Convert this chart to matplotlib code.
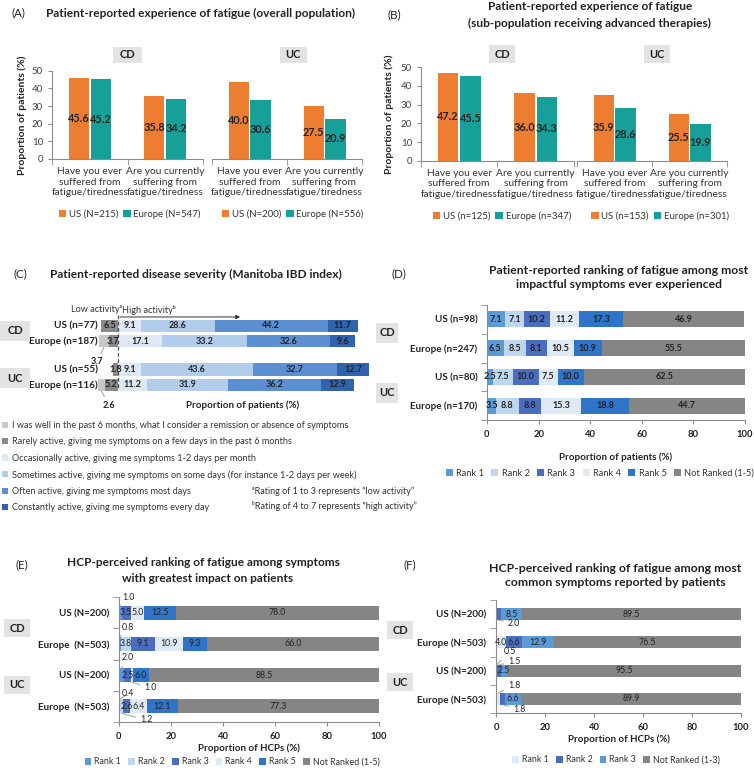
import matplotlib
matplotlib.use('Agg')
import matplotlib.pyplot as plt
from matplotlib.patches import Patch, Rectangle
import numpy as np

plt.rcParams['font.family'] = ['Lato', 'DejaVu Sans']

# ---------------- data ----------------
questions = ['Have you ever\nsuffered from\nfatigue/tiredness',
             'Are you currently\nsuffering from\nfatigue/tiredness']
A_CD_US = [45.6, 35.8]
A_CD_EU = [45.2, 34.2]
A_UC_US = [40.0, 27.5]
A_UC_EU = [30.6, 20.9]
A_leg_CD = ['US (N=215)', 'Europe (N=547)']
A_leg_UC = ['US (N=200)', 'Europe (N=556)']

B_CD_US = [47.2, 36.0]
B_CD_EU = [45.5, 34.3]
B_UC_US = [35.9, 25.5]
B_UC_EU = [28.6, 19.9]
B_leg_CD = ['US (n=125)', 'Europe (n=347)']
B_leg_UC = ['US (n=153)', 'Europe (n=301)']

C_rows = ['US (n=77)', 'Europe (n=187)', 'US (n=55)', 'Europe (n=116)']
C_cats = ['I was well in the past 6 months, what I consider a remission or absence of symptoms',
          'Rarely active, giving me symptoms on a few days in the past 6 months',
          'Occasionally active, giving me symptoms 1-2 days per month',
          'Sometimes active, giving me symptoms on some days (for instance 1-2 days per week)',
          'Often active, giving me symptoms most days',
          'Constantly active, giving me symptoms every day']
C_well = [0, 3.7, 0, 2.6]
C_rarely = [6.5, 3.7, 1.8, 5.2]
C_occas = [9.1, 17.1, 9.1, 11.2]
C_some = [28.6, 33.2, 43.6, 31.9]
C_often = [44.2, 32.6, 32.7, 36.2]
C_const = [11.7, 9.6, 12.7, 12.9]

D_rows = ['US (n=98)', 'Europe (n=247)', 'US (n=80)', 'Europe (n=170)']
D_rank1 = [7.1, 6.5, 2.5, 3.5]
D_rank2 = [7.1, 8.5, 7.5, 8.8]
D_rank3 = [10.2, 8.1, 10.0, 8.8]
D_rank4 = [11.2, 10.5, 7.5, 15.3]
D_rank5 = [17.3, 10.9, 10.0, 18.8]
D_notr = [46.9, 55.5, 62.5, 44.7]
rank5_labels = ['Rank 1', 'Rank 2', 'Rank 3', 'Rank 4', 'Rank 5', 'Not Ranked (1-5)']

E_rows = ['US (N=200)', 'Europe  (N=503)', 'US (N=200)', 'Europe  (N=503)']
E_rank1 = [1.0, 0.8, 2.0, 0.4]
E_rank2 = [0.0, 3.8, 0.0, 1.2]
E_rank3 = [3.5, 9.1, 2.5, 2.6]
E_rank4 = [5.0, 10.9, 1.0, 6.4]
E_rank5 = [12.5, 9.3, 6.0, 12.1]
E_notr = [78.0, 66.0, 88.5, 77.3]

F_rows = ['US (N=200)', 'Europe (N=503)', 'US (N=200)', 'Europe (N=503)']
F_rank1 = [0.0, 4.0, 0.5, 1.8]
F_rank2 = [2.0, 6.6, 1.5, 1.8]
F_rank3 = [8.5, 12.9, 2.5, 6.6]
F_notr = [89.5, 76.5, 95.5, 89.9]
rank3_labels = ['Rank 1', 'Rank 2', 'Rank 3', 'Not Ranked (1-3)']

# ---------------- style ----------------
ORANGE = '#ED7D31'
TEAL = '#17A09A'
BOXC = '#E3E3E3'
SPINE = '#8C8C8C'
TXT = '#222222'
C_cols = ['#C8C8C8', '#8A8A8A', '#DFE9F5', '#B2CCEB', '#5C8FD2', '#2F63AE']
R1, R2, R3, R4, R5, RN = '#5B9BD5', '#BDD7EE', '#4A6DBF', '#DEEBF7', '#2F74C8', '#858585'
TITLE_FS = 8.6

W, H = 754, 770
fig = plt.figure(figsize=(W / 100, H / 100), dpi=100)


def axpx(l, t, r, b):
    return fig.add_axes([l / W, 1 - b / H, (r - l) / W, (b - t) / H])


def ftext(x, y, s, **kw):
    kw.setdefault('color', TXT)
    return fig.text(x / W, 1 - y / H, s, **kw)


def fbox(cx, cy, w, h, s, fs=8):
    fig.patches.append(Rectangle(((cx - w / 2) / W, 1 - (cy + h / 2) / H), w / W, h / H,
                                 transform=fig.transFigure, fc=BOXC, ec='none', zorder=0))
    ftext(cx, cy, s, ha='center', va='center', fontsize=fs, fontweight='bold')


def hlegend(cx, cy, labels, colors, fs=6.6, colsp=0.9, tpad=0.35):
    handles = [Patch(facecolor=c, edgecolor='none') for c in colors]
    fig.legend(handles, labels, loc='center', bbox_to_anchor=(cx / W, 1 - cy / H),
               ncol=len(labels), frameon=False, fontsize=fs, handlelength=0.75,
               handleheight=0.75, handletextpad=tpad, columnspacing=colsp,
               borderaxespad=0, borderpad=0, labelcolor='#333333')


def grouped(ax, us, eu, ymax, show_y):
    x = np.arange(len(us))
    w, off = 0.27, 0.145
    b1 = ax.bar(x - off, us, w, color=ORANGE)
    b2 = ax.bar(x + off, eu, w, color=TEAL)
    for b in (b1, b2):
        ax.bar_label(b, fmt='%.1f', label_type='center', fontsize=7.8, fontweight='bold', color=TXT)
    ax.set_xlim(-0.5, len(us) - 0.5)
    ax.set_ylim(0, ymax)
    ax.set_xticks(x)
    ax.set_xticklabels(questions, fontsize=7.4, color='#333333', linespacing=1.2)
    ax.set_xticks(np.arange(len(us) + 1) - 0.5, minor=True)
    ax.tick_params(axis='x', which='major', length=0, pad=6)
    ax.tick_params(axis='x', which='minor', length=4, color=SPINE, direction='out')
    for s in ('top', 'right'):
        ax.spines[s].set_visible(False)
    ax.spines['bottom'].set_color(SPINE)
    if show_y:
        ax.set_yticks(np.arange(0, 51, 10))
        ax.tick_params(axis='y', labelsize=7, length=3, color=SPINE, labelcolor='#404040')
        ax.spines['left'].set_color(SPINE)
        ax.set_ylabel('Proportion of patients (%)', fontsize=7.5, fontweight='bold', color=TXT)
    else:
        ax.spines['left'].set_visible(False)
        ax.set_yticks([])


# ---------------- Panel A ----------------
ftext(12, 13, '(A)', ha='left', va='center', fontsize=8.4)
ftext(201, 13, 'Patient-reported experience of fatigue (overall population)',
      ha='center', va='center', fontsize=TITLE_FS, fontweight='bold')
fbox(127, 55, 29, 16, 'CD')
fbox(293, 55, 27, 16, 'UC')
axA1 = axpx(52, 70.7, 203, 159)
grouped(axA1, A_CD_US, A_CD_EU, 50, True)
axA1.yaxis.set_label_coords(-0.165, 0.5)
axA2 = axpx(212, 70.7, 362, 159)
grouped(axA2, A_UC_US, A_UC_EU, 45.9, False)
hlegend(130, 214, A_leg_CD, [ORANGE, TEAL], fs=6.9, colsp=0.5, tpad=0.3)
hlegend(293, 214, A_leg_UC, [ORANGE, TEAL], fs=6.9, colsp=0.5, tpad=0.3)

# ---------------- Panel B ----------------
ftext(387, 15, '(B)', ha='left', va='center', fontsize=8.4)
ftext(590, 7, 'Patient-reported experience of fatigue', ha='center', va='center',
      fontsize=TITLE_FS, fontweight='bold')
ftext(590, 23, '(sub-population receiving advanced therapies)', ha='center', va='center',
      fontsize=TITLE_FS, fontweight='bold')
fbox(502, 54, 26, 18, 'CD')
fbox(657, 54, 26, 18, 'UC')
axB1 = axpx(421, 67.3, 574, 160.7)
grouped(axB1, B_CD_US, B_CD_EU, 50, True)
axB1.yaxis.set_label_coords(-0.175, 0.5)
axB2 = axpx(577, 67.3, 727, 160.7)
grouped(axB2, B_UC_US, B_UC_EU, 51, False)
hlegend(502, 216, B_leg_CD, [ORANGE, TEAL], fs=6.9, colsp=0.5, tpad=0.3)
hlegend(660, 216, B_leg_UC, [ORANGE, TEAL], fs=6.9, colsp=0.5, tpad=0.3)

# ---------------- Panel C ----------------
ftext(13, 274, '(C)', ha='left', va='center', fontsize=8.4)
ftext(196, 274, 'Patient-reported disease severity (Manitoba IBD index)',
      ha='center', va='center', fontsize=TITLE_FS, fontweight='bold')
u = 15.3
crow = np.array([0, 1, 2.85, 3.85])
y_top, y_bot = -1.6, 4.85
axC = axpx(118 - 2.56 * 12, 326 + y_top * u, 118 + 2.56 * 100, 326 + y_bot * u)
axC.set_xlim(-12, 100)
axC.set_ylim(y_bot, y_top)
axC.axis('off')
hC = 0.8
SEG_FS = 6.5
well = np.array(C_well); rare = np.array(C_rarely)
axC.barh(crow, well, hC, left=-(well + rare), color=C_cols[0])
axC.barh(crow, rare, hC, left=-rare, color=C_cols[1])
for ri in range(4):
    if rare[ri] > 0:
        axC.text(-rare[ri] / 2, crow[ri], f'{rare[ri]:.1f}', ha='center', va='center',
                 fontsize=SEG_FS, fontweight='bold', color=TXT)
left = np.zeros(4)
for vals, col in zip([C_occas, C_some, C_often, C_const], C_cols[2:]):
    vals = np.array(vals)
    bars = axC.barh(crow, vals, hC, left=left, color=col)
    axC.bar_label(bars, fmt='%.1f', label_type='center', fontsize=SEG_FS, fontweight='bold', color=TXT)
    left += vals
# annotated "well" values
C_annot = {1: (97, 362), 3: (109, 405)}
for ri, (tx, ty) in C_annot.items():
    cx = -(well[ri] / 2 + rare[ri])
    ey = crow[ri] + hC / 2
    axC.annotate(f'{well[ri]:.1f}', xy=(cx, ey), xytext=(tx, H - ty), textcoords='figure pixels',
                 ha='center', va='center', fontsize=SEG_FS, fontweight='bold', color=TXT,
                 arrowprops=dict(arrowstyle='-', color='#A0A0A0', lw=0.7, shrinkA=1, shrinkB=0))
for ri, lab in enumerate(C_rows):
    axC.text(-8.0, crow[ri], lab, ha='right', va='center', fontsize=7.2, fontweight='bold', color=TXT)
axC.plot([0, 0], [-0.72, 4.2], ls=(0, (3, 2)), color='#555555', lw=0.9)
ya = -0.59
axC.annotate('', xy=(-16.8, ya), xytext=(0, ya),
             arrowprops=dict(arrowstyle='-|>', color='#333333', lw=0.7, mutation_scale=6,
                             shrinkA=0, shrinkB=0))
axC.annotate('', xy=(47.7, ya), xytext=(0.8, ya),
             arrowprops=dict(arrowstyle='-|>', color='#333333', lw=0.7, mutation_scale=6,
                             shrinkA=0, shrinkB=0))
ftext(97, 310, 'Low activity\u1d43', ha='center', va='center', fontsize=6.6, color='#333333')
ftext(122, 310, 'High activity\u1d47', ha='left', va='center', fontsize=6.6, color='#333333')
fbox(15, 331, 30, 20, 'CD')
fbox(15, 378, 30, 20, 'UC')
ftext(243, 405, 'Proportion of patients (%)', ha='center', va='center', fontsize=7, fontweight='bold')
handles = [Patch(facecolor=c, edgecolor='none') for c in C_cols]
fig.legend(handles, C_cats, loc='upper left', bbox_to_anchor=(2 / W, 1 - 421 / H),
           frameon=False, fontsize=6.6, handlelength=0.65, handleheight=0.65,
           handletextpad=0.4, labelspacing=0.8, borderaxespad=0, borderpad=0,
           labelcolor='#333333')
ftext(252, 491, '\u1d43Rating of 1 to 3 represents \u201clow activity\u201d', ha='left', va='center',
      fontsize=6.5, color='#333333')
ftext(252, 506, '\u1d47Rating of 4 to 7 represents \u201chigh activity\u201d', ha='left', va='center',
      fontsize=6.5, color='#333333')


# ---------------- stacked rank helper ----------------
def stacked(ax, rows, segs, colors, h, lab_bold, fs, annot=None):
    y = np.arange(len(rows))
    left = np.zeros(len(rows))
    for si, (vals, col) in enumerate(zip(segs, colors)):
        vals = np.array(vals, float)
        ax.barh(y, vals, h, left=left, color=col)
        for ri, v in enumerate(vals):
            if v <= 0:
                continue
            cx = left[ri] + v / 2
            if annot and (ri, si) in annot:
                tx, ty, side = annot[(ri, si)]
                ey = ri + side * h / 2
                ax.annotate(f'{v:.1f}', xy=(cx, ey), xytext=(tx, H - ty), textcoords='figure pixels',
                            ha='center', va='center', fontsize=fs, color=TXT,
                            fontweight='bold' if lab_bold else 'normal',
                            arrowprops=dict(arrowstyle='-', color='#A0A0A0', lw=0.7,
                                            shrinkA=1, shrinkB=0))
            else:
                ax.text(cx, ri, f'{v:.1f}', ha='center', va='center', fontsize=fs, color=TXT,
                        fontweight='bold' if lab_bold else 'normal')
        left += vals
    ax.set_ylim(len(rows) - 0.5, -0.5)
    ax.set_xlim(0, 100)
    ax.set_yticks(y)
    ax.set_yticklabels(rows, fontsize=7.0, fontweight='bold', color=TXT)
    ax.set_yticks(np.arange(len(rows) + 1) - 0.5, minor=True)
    ax.tick_params(axis='y', which='major', length=0, pad=7)
    ax.tick_params(axis='y', which='minor', length=4, color=SPINE)
    ax.set_xticks(np.arange(0, 101, 20))
    ax.tick_params(axis='x', length=3, color=SPINE, labelsize=6.8, labelcolor=TXT, pad=4)
    for t in ax.get_xticklabels():
        t.set_fontweight('bold')
    for s in ('top', 'right'):
        ax.spines[s].set_visible(False)
    for s in ('left', 'bottom'):
        ax.spines[s].set_color(SPINE)


# ---------------- Panel D ----------------
ftext(392, 274, '(D)', ha='left', va='center', fontsize=8.4)
ftext(619, 270, 'Patient-reported ranking of fatigue among most', ha='center', va='center',
      fontsize=8.7, fontweight='bold')
ftext(619, 285, 'impactful symptoms ever experienced', ha='center', va='center',
      fontsize=8.7, fontweight='bold')
axD = axpx(487, 305, 745, 420)
stacked(axD, D_rows, [D_rank1, D_rank2, D_rank3, D_rank4, D_rank5, D_notr],
        [R1, R2, R3, R4, R5, RN], 0.55, True, SEG_FS)
axD.set_xlabel('Proportion of patients (%)', fontsize=7, fontweight='bold', color=TXT, labelpad=10)
fbox(387, 333, 22, 20, 'CD')
fbox(387, 393, 22, 20, 'UC')
hlegend(600, 473, rank5_labels, [R1, R2, R3, R4, R5, RN], fs=6.7, colsp=0.8)

# ---------------- Panel E ----------------
ftext(16, 565, '(E)', ha='left', va='center', fontsize=8.4)
ftext(203, 563, 'HCP-perceived ranking of fatigue among symptoms', ha='center', va='center',
      fontsize=TITLE_FS, fontweight='bold')
ftext(208, 578, 'with greatest impact on patients', ha='center', va='center',
      fontsize=TITLE_FS, fontweight='bold')
axE = axpx(119, 597, 379, 722)
E_annot = {(0, 0): (128, 597, -1), (1, 0): (128, 627, -1), (2, 0): (128, 658, -1),
           (2, 3): (150, 688, 1), (3, 0): (128, 694, -1), (3, 1): (146, 720, 1)}
stacked(axE, E_rows, [E_rank1, E_rank2, E_rank3, E_rank4, E_rank5, E_notr],
        [R1, R2, R3, R4, R5, RN], 0.45, False, 6.3, annot=E_annot)
axE.set_xlabel('Proportion of HCPs (%)', fontsize=7, fontweight='bold', color=TXT, labelpad=2)
fbox(17, 628, 26, 18, 'CD')
fbox(17, 685, 26, 18, 'UC')
hlegend(232, 762, rank5_labels, [R1, R2, R3, R4, R5, RN], fs=6.4, colsp=0.8)

# ---------------- Panel F ----------------
ftext(404, 565, '(F)', ha='left', va='center', fontsize=8.4)
ftext(615, 568, 'HCP-perceived ranking of fatigue among most', ha='center', va='center',
      fontsize=8.8, fontweight='bold')
ftext(615, 583, 'common symptoms reported by patients', ha='center', va='center',
      fontsize=8.8, fontweight='bold')
axF = axpx(496, 600, 741, 713)
F_annot = {(0, 1): (514, 623, 1), (2, 0): (510, 652, -1), (2, 1): (514, 662, -1),
           (3, 0): (514, 685, -1), (3, 1): (519, 709, 1)}
stacked(axF, F_rows, [F_rank1, F_rank2, F_rank3, F_notr], [R4, R3, R1, RN], 0.42, False, 6.3,
        annot=F_annot)
axF.set_xlabel('Proportion of HCPs (%)', fontsize=7, fontweight='bold', color=TXT, labelpad=2)
fbox(400, 630, 26, 18, 'CD')
fbox(400, 682, 26, 18, 'UC')
hlegend(616, 760, rank3_labels, [R4, R3, R1, RN], fs=6.4, colsp=0.8)

fig.savefig('out.png', dpi=100)
